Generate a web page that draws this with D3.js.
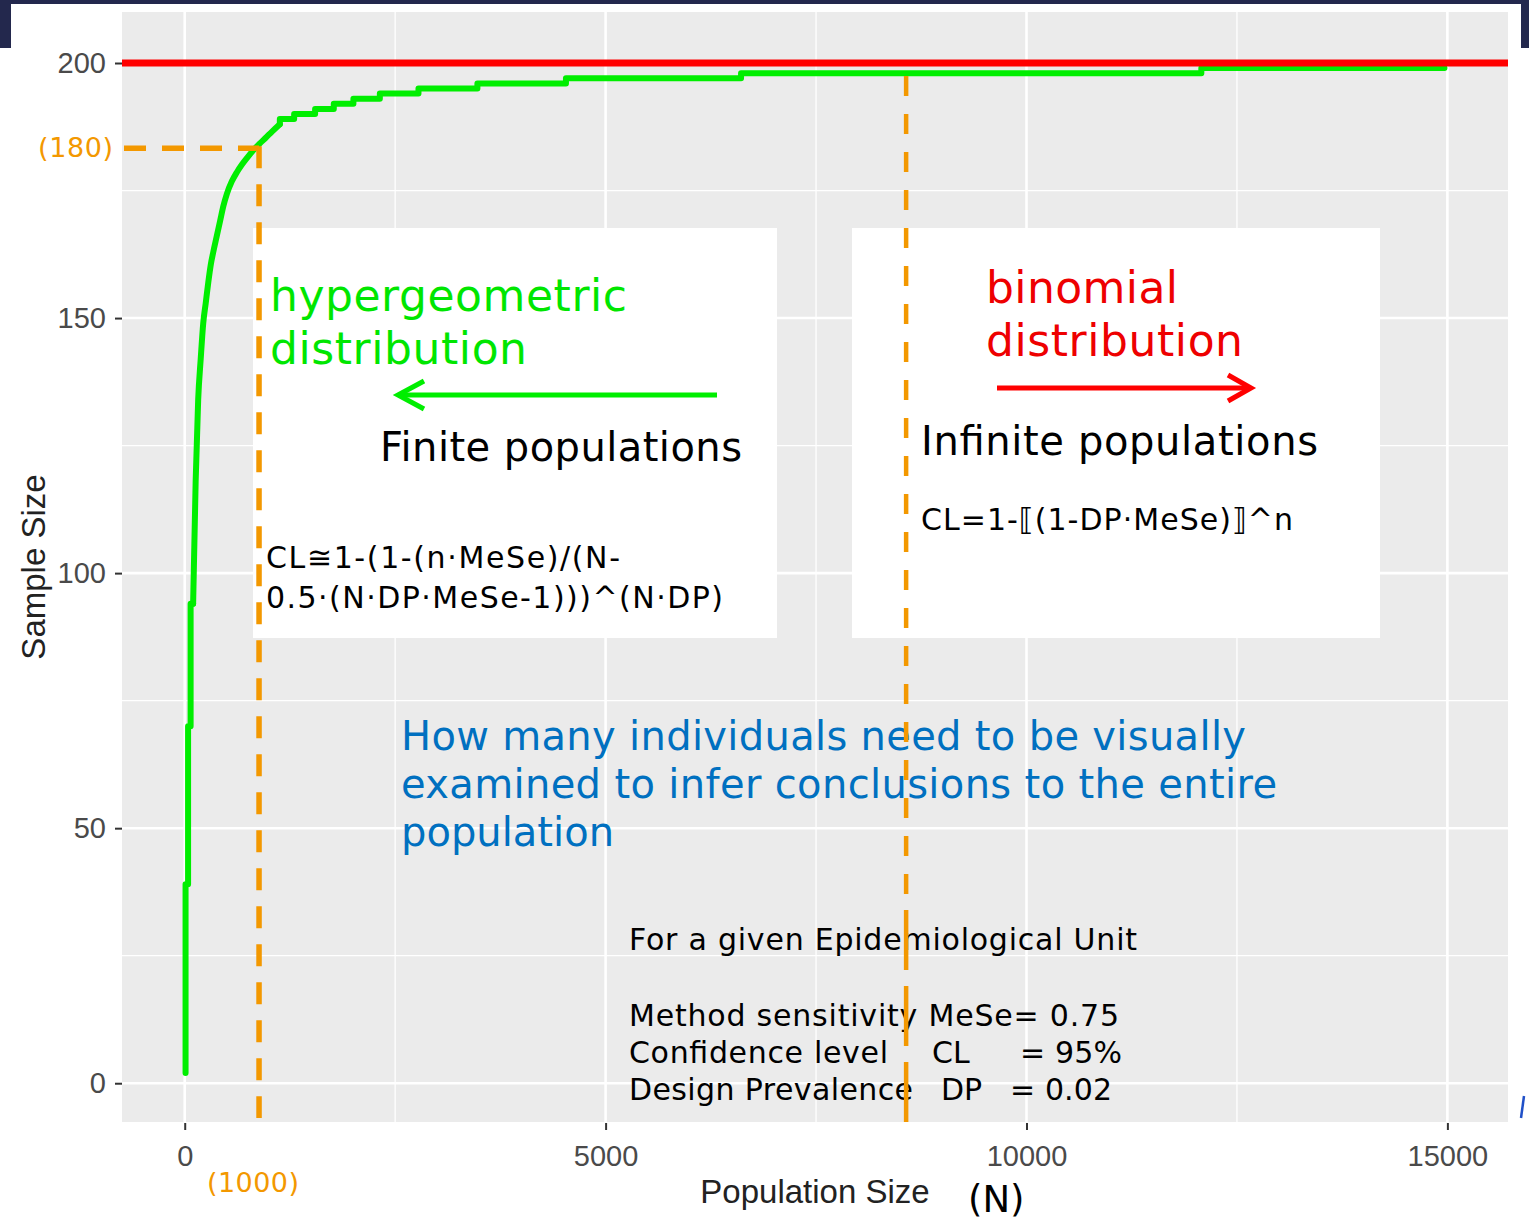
<!DOCTYPE html>
<html>
<head>
<meta charset="utf-8">
<script src="https://cdn.jsdelivr.net/npm/d3@7"></script>
<style>
  body { margin: 0; background: #fff; }
  svg { display: block; }
</style>
</head>
<body>
<div id="chart"></div>
<script>
// sample size needed vs population size
const popSize = [10, 40, 70, 100, 130, 160, 190, 220, 250, 280, 310, 340, 380, 420, 460, 500,
  560, 620, 680, 750, 820, 890, 960, 1040, 1130, 1300, 1549, 1771, 2004, 2318, 2777, 3477,
  4529, 6609, 12077, 14965];
const sampleSize = [2, 39, 70, 94, 118, 134, 142, 149, 153, 157, 160.5, 163, 166, 169, 172, 174.3,
  176.8, 178.6, 180.1, 181.6, 183, 184.2, 185.3, 186.6, 188, 189, 190, 191, 192, 193, 194, 195,
  196, 197, 198, 199];

const binomialN = 200;          // red line: infinite population sample size
const markN = 883, markn = 183.3; // orange guide "(1000)" / "(180)"
const splitN = 8570;            // orange guide between the two regimes

const xTicks = [0, 5000, 10000, 15000];
const xMinor = [2500, 7500, 12500];
const yTicks = [0, 50, 100, 150, 200];
const yMinor = [25, 75, 125, 175];

const W = 1529, H = 1220;
const panel = {left: 122, right: 1508, top: 12, bottom: 1122};

const x = d3.scaleLinear().domain([-745, 15720]).range([panel.left, panel.right]);
const y = d3.scaleLinear().domain([-7.6, 210]).range([panel.bottom, panel.top]);

const svg = d3.select("#chart").append("svg")
  .attr("width", W).attr("height", H);

// dark frame bits of the screenshot
const navy = "#23284d";
svg.append("rect").attr("x", 0).attr("y", 0).attr("width", W).attr("height", 4).attr("fill", navy);
svg.append("rect").attr("x", 0).attr("y", 0).attr("width", 11).attr("height", 48).attr("fill", navy);
svg.append("rect").attr("x", 1521).attr("y", 0).attr("width", 8).attr("height", 48).attr("fill", navy);

// panel + grid
svg.append("rect")
  .attr("x", panel.left).attr("y", panel.top)
  .attr("width", panel.right - panel.left).attr("height", panel.bottom - panel.top)
  .attr("fill", "#ebebeb");

const grid = svg.append("g").attr("stroke", "#fff");
grid.selectAll(".xminor").data(xMinor).join("line")
  .attr("x1", d => x(d)).attr("x2", d => x(d))
  .attr("y1", panel.top).attr("y2", panel.bottom).attr("stroke-width", 1.3);
grid.selectAll(".yminor").data(yMinor).join("line")
  .attr("y1", d => y(d)).attr("y2", d => y(d))
  .attr("x1", panel.left).attr("x2", panel.right).attr("stroke-width", 1.3);
grid.selectAll(".xmajor").data(xTicks).join("line")
  .attr("x1", d => x(d)).attr("x2", d => x(d))
  .attr("y1", panel.top).attr("y2", panel.bottom).attr("stroke-width", 2.6);
grid.selectAll(".ymajor").data(yTicks).join("line")
  .attr("y1", d => y(d)).attr("y2", d => y(d))
  .attr("x1", panel.left).attr("x2", panel.right).attr("stroke-width", 2.6);

// axes
const axisFont = "'Liberation Sans', Arial, sans-serif";
const yAxis = svg.append("g")
  .attr("transform", `translate(${panel.left},0)`)
  .call(d3.axisLeft(y).tickValues(yTicks).tickSize(7).tickPadding(9));
const xAxis = svg.append("g")
  .attr("transform", `translate(0,${panel.bottom + 1})`)
  .call(d3.axisBottom(x).tickValues(xTicks).tickSize(7).tickPadding(15).tickFormat(d3.format("d")));
[xAxis, yAxis].forEach(a => {
  a.select(".domain").remove();
  a.selectAll(".tick line").attr("stroke", "#333").attr("stroke-width", 2);
  a.selectAll(".tick text").attr("fill", "#4a4a4a")
    .style("font-family", axisFont).style("font-size", "29px");
});

svg.append("text")
  .attr("x", (panel.left + panel.right) / 2).attr("y", 1203)
  .attr("text-anchor", "middle")
  .style("font-family", axisFont).style("font-size", "33px").attr("fill", "#222")
  .text("Population Size");
svg.append("text")
  .attr("transform", `translate(45,${(panel.top + panel.bottom) / 2}) rotate(-90)`)
  .attr("text-anchor", "middle")
  .style("font-family", axisFont).style("font-size", "33px").attr("fill", "#222")
  .text("Sample Size");

// curve: stairs at the very start and in the flat tail, smooth in between
const pts = popSize.map((d, i) => [d, sampleSize[i]]);
const iSmooth = popSize.indexOf(100), iTail = popSize.indexOf(1130);
const pieces = [
  [pts.slice(0, iSmooth + 1), d3.curveStepBefore],
  [pts.slice(iSmooth, iTail + 1), d3.curveMonotoneX],
  [pts.slice(iTail), d3.curveStepBefore]
];
pieces.forEach(([p, c]) => {
  svg.append("path")
    .attr("d", d3.line().x(d => x(d[0])).y(d => y(d[1])).curve(c)(p))
    .attr("fill", "none")
    .attr("stroke", "#00ee00")
    .attr("stroke-width", 6)
    .attr("stroke-linejoin", "round")
    .attr("stroke-linecap", "round");
});

svg.append("line")
  .attr("x1", panel.left).attr("x2", panel.right)
  .attr("y1", y(binomialN)).attr("y2", y(binomialN))
  .attr("stroke", "#ff0000").attr("stroke-width", 7);

// white text boxes
svg.append("rect").attr("x", 253).attr("y", 228).attr("width", 524).attr("height", 410).attr("fill", "#fff");
svg.append("rect").attr("x", 852).attr("y", 228).attr("width", 528).attr("height", 410).attr("fill", "#fff");

const txtFont = "'DejaVu Sans', Verdana, sans-serif";
function label(str, px, py, size, color, len) {
  const t = svg.append("text")
    .attr("x", px).attr("y", py)
    .style("font-family", txtFont).style("font-size", size + "px")
    .style("white-space", "pre")
    .attr("fill", color)
    .text(str);
  if (len) t.attr("textLength", len).attr("lengthAdjust", "spacing");
  return t;
}

label("hypergeometric", 270, 311, 44, "#00e600", 357);
label("distribution", 270, 364, 44, "#00e600", 257);
label("binomial", 986, 303, 44, "#ee0000", 192);
label("distribution", 986, 356, 44, "#ee0000", 257);
label("Finite populations", 380, 461, 40, "#000", 362);
label("Infinite populations", 921, 455, 40, "#000", 397);
label("CL=1-\u27E6(1-DP\u00B7MeSe)\u27E7^n", 921, 530, 30, "#000", 372);
label("CL\u22451-(1-(n\u00B7MeSe)/(N-", 266, 568, 30, "#000", 354);
label("0.5\u00B7(N\u00B7DP\u00B7MeSe-1)))^(N\u00B7DP)", 266, 608, 30, "#000", 457);

// arrows
const arrows = svg.append("g").attr("fill", "none").attr("stroke-linecap", "butt");
arrows.append("line").attr("x1", 717).attr("x2", 400).attr("y1", 395).attr("y2", 395)
  .attr("stroke", "#00ee00").attr("stroke-width", 5);
arrows.append("path").attr("d", "M424,381 L398,395 L424,409")
  .attr("stroke", "#00ee00").attr("stroke-width", 5);
arrows.append("line").attr("x1", 997).attr("x2", 1248).attr("y1", 388).attr("y2", 388)
  .attr("stroke", "#ff0000").attr("stroke-width", 5);
arrows.append("path").attr("d", "M1228,375 L1251,388 L1228,401")
  .attr("stroke", "#ff0000").attr("stroke-width", 5);

// blue question
label("How many individuals need to be visually", 401, 750, 40, "#0070c0", 845);
label("examined to infer conclusions to the entire", 401, 798, 40, "#0070c0", 876);
label("population", 401, 846, 40, "#0070c0", 213);

// parameters
label("For a given Epidemiological Unit", 629, 950, 30, "#000", 508);
label("Method sensitivity MeSe= 0.75", 629, 1026, 30, "#000", 490);
label("Confidence level", 629, 1063, 30, "#000", 259);
label("CL", 932, 1063, 30, "#000");
label("= 95%", 1020, 1063, 30, "#000", 102);
label("Design Prevalence", 629, 1100, 30, "#000", 284);
label("DP", 941, 1100, 30, "#000");
label("= 0.02", 1010, 1100, 30, "#000", 102);

// orange guides
const orange = "#f39800";
svg.append("line")
  .attr("x1", 124).attr("x2", x(markN))
  .attr("y1", y(markn)).attr("y2", y(markn))
  .attr("stroke", orange).attr("stroke-width", 5.5).attr("stroke-dasharray", "22,16");
svg.append("line")
  .attr("x1", x(markN)).attr("x2", x(markN))
  .attr("y1", y(markn) - 2).attr("y2", panel.bottom - 4)
  .attr("stroke", orange).attr("stroke-width", 5.5).attr("stroke-dasharray", "22,16");
svg.append("line")
  .attr("x1", x(splitN)).attr("x2", x(splitN))
  .attr("y1", 76).attr("y2", 894)
  .attr("stroke", orange).attr("stroke-width", 4.5).attr("stroke-dasharray", "20,18");
svg.append("line")
  .attr("x1", x(splitN)).attr("x2", x(splitN))
  .attr("y1", 910).attr("y2", panel.bottom)
  .attr("stroke", orange).attr("stroke-width", 4.5).attr("stroke-dasharray", "60,16");

label("(180)", 38, 157, 27, orange, 75);
label("(1000)", 207, 1192, 27, orange, 92);
label("(N)", 968, 1212, 37, "#000");

// stray blue mark at the bottom right of the screenshot
svg.append("line").attr("x1", 1524).attr("y1", 1096).attr("x2", 1521).attr("y2", 1118)
  .attr("stroke", "#2050c8").attr("stroke-width", 2.5);
</script>
</body>
</html>
